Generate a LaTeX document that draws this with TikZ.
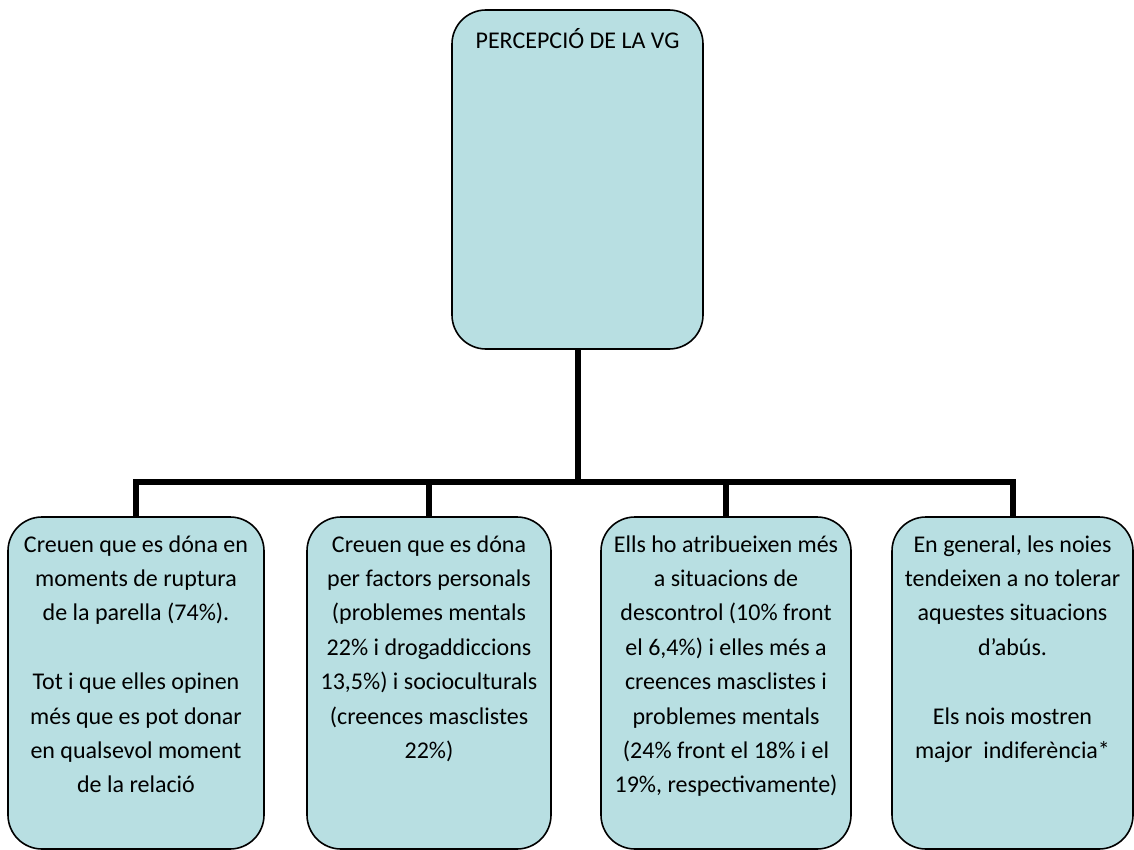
\documentclass[tikz,border=0pt]{standalone}
\usepackage{fontspec}
\setmainfont{Carlito}
\usetikzlibrary{positioning}
\definecolor{boxfill}{RGB}{184,223,226}
\tikzset{}

\begin{document}
\begin{tikzpicture}[x=1pt,y=-1pt]
            \tikzset{
                vg box/.style={draw,fill=boxfill,rounded corners=34pt,line width=1.6pt,inner sep=0},
                vg text/.style={align=center,inner sep=0,font=\fontsize{24}{34.4}\selectfont},
                vg link/.style={line width=6pt}
            }
            \useasboundingbox (0,0) rectangle (1134,850);
            \node[vg box,minimum width=251pt,minimum height=339pt] (top) at (577.5,179.5) {};
            \node[vg box,minimum width=256pt,minimum height=332pt] (b1) at (136,683) {};
            \node[vg box,minimum width=244pt,minimum height=332pt] (b2) at (429,683) {};
            \node[vg box,minimum width=250pt,minimum height=332pt] (b3) at (726,683) {};
            \node[vg box,minimum width=241pt,minimum height=332pt] (b4) at (1012.5,683) {};
            \coordinate (bus) at (577,482);
            \node[vg text,below=19pt of top.north] (t0) {PERCEPCIÓ DE LA VG};
            \node[vg text,below=19pt of b1.north] (t1) {Creuen que es dóna en\\moments de ruptura\\de la parella (74\%).\\[34.4pt]Tot i que elles opinen\\més que es pot donar\\en qualsevol moment\\de la relació};
            \node[vg text,below=19pt of b2.north] (t2) {Creuen que es dóna\\per factors personals\\(problemes mentals\\22\% i drogaddiccions\\13,5\%) i socioculturals\\(creences masclistes\\22\%)};
            \node[vg text,below=19pt of b3.north] (t3) {Ells ho atribueixen més\\a situacions de\\descontrol (10\% front\\el 6,4\%) i elles més a\\creences masclistes i\\problemes mentals\\(24\% front el 18\% i el\\19\%, respectivamente)};
            \node[vg text,below=19pt of b4.north] (t4) {En general, les noies\\tendeixen a no tolerar\\aquestes situacions\\d’abús.\\[34.4pt]Els nois mostren\\major\ \ indiferència*};
            \path[draw,vg link]
                (top.south) -- (top.south |- bus)
                (b1.north) -- (b1.north |- bus) -| (b4.north)
                (b2.north) -- (b2.north |- bus)
                (b3.north) -- (b3.north |- bus)
                ;
        \end{tikzpicture}
\end{document}
